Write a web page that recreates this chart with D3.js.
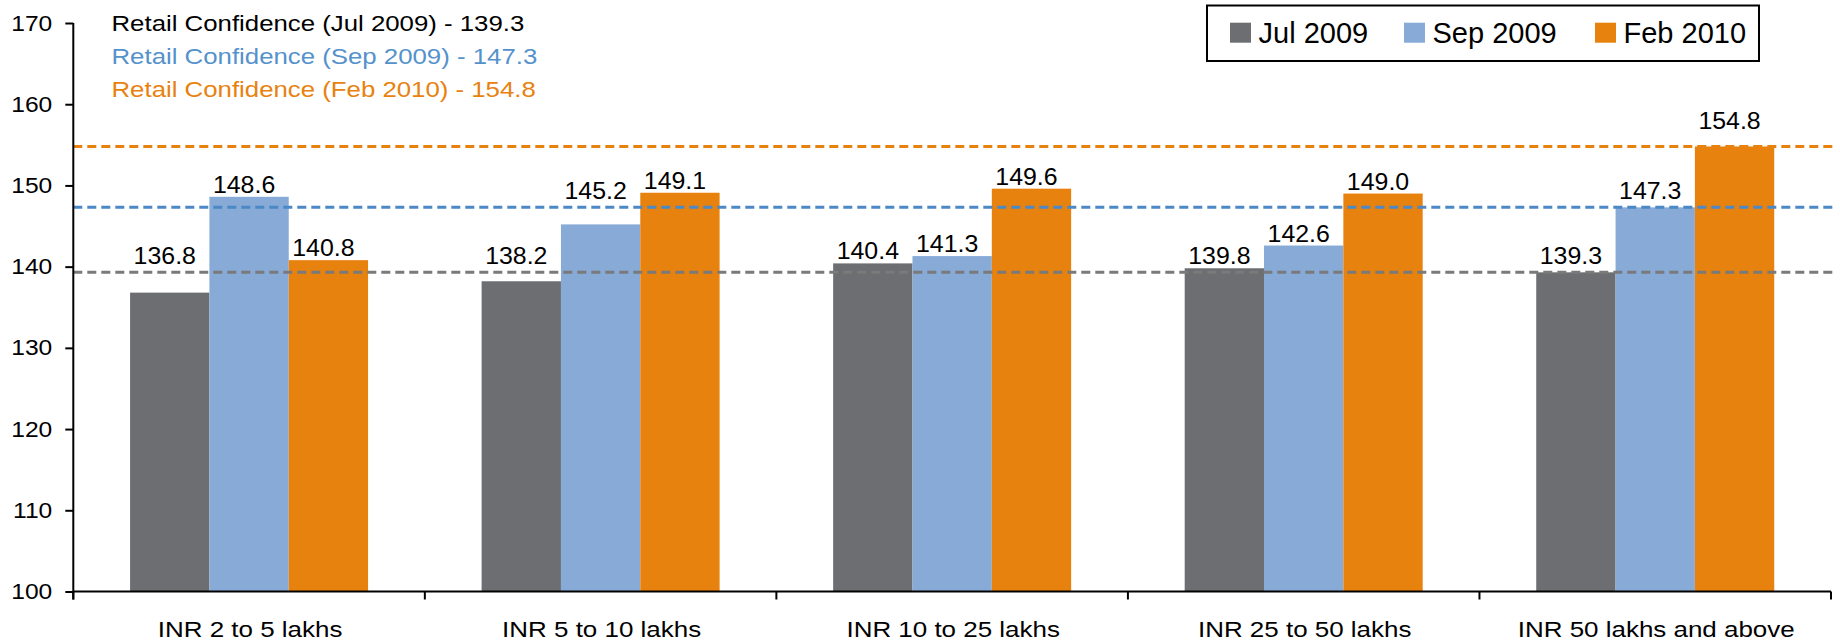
<!DOCTYPE html>
<html>
<head>
<meta charset="utf-8">
<script src="https://cdn.jsdelivr.net/npm/d3@7"></script>
<style>
  html, body { margin: 0; padding: 0; background: #ffffff; }
  svg { display: block; font-family: "Liberation Sans", Arial, sans-serif; }
</style>
</head>
<body>
<svg id="chart" width="1840" height="642"></svg>
<script>
// Income bands on the x axis
const categories = ["INR 2 to 5 lakhs", "INR 5 to 10 lakhs", "INR 10 to 25 lakhs", "INR 25 to 50 lakhs", "INR 50 lakhs and above"];
// Survey rounds
const seriesNames = ["Jul 2009", "Sep 2009", "Feb 2010"];
const jul2009 = [136.8, 138.2, 140.4, 139.8, 139.3];
const sep2009 = [148.6, 145.2, 141.3, 142.6, 147.3];
const feb2010 = [140.8, 149.1, 149.6, 149.0, 154.8];
// Overall retail confidence per round (dashed reference lines)
const overall = [139.3, 147.3, 154.8];
const yTicks = [100, 110, 120, 130, 140, 150, 160, 170];

const barColors = ["#6d6e72", "#87aad6", "#e8820f"];
const lineColors = ["#7a7a7a", "#4a88c6", "#e8820f"];
const noteColors = ["#000000", "#5592cc", "#e8820f"];

const svg = d3.select("#chart");
const plotLeft = 73.3, plotRight = 1831, plotTop = 23, plotBottom = 591.5;

const x = d3.scaleBand().domain(categories).range([plotLeft, plotRight]).paddingInner(0.323).paddingOuter(0.1615);
const xs = d3.scaleBand().domain(seriesNames).range([0, x.bandwidth()]);
const y = d3.scaleLinear().domain([100, 170]).range([plotBottom, plotTop]);

// Text in this chart is set slightly wide: scale glyphs horizontally about their anchor
function widen(sel, k) {
  sel.each(function () {
    const t = d3.select(this);
    const tx = +t.attr("x") || 0, ty = +t.attr("y") || 0;
    t.attr("x", 0).attr("y", 0).attr("transform", `translate(${tx},${ty}) scale(${k},1)`);
  });
}

const values = [jul2009, sep2009, feb2010];
const rows = categories.map((c, i) => ({ cat: c, vals: seriesNames.map((s, k) => ({ s, k, v: values[k][i] })) }));

// Bars
const groups = svg.append("g").selectAll("g").data(rows).join("g")
  .attr("transform", d => `translate(${x(d.cat)},0)`);
groups.selectAll("rect").data(d => d.vals).join("rect")
  .attr("x", d => xs(d.s))
  .attr("width", xs.bandwidth())
  .attr("y", d => y(d.v))
  .attr("height", d => y(100) - y(d.v))
  .attr("fill", d => barColors[d.k]);

// Value labels sit just above each bar; a label that would sit on a
// reference line is lifted clear above that line.
const lineYs = overall.map(v => y(v));
function labelBaseline(d) {
  let b = y(d.v) - 4;
  const hit = lineYs.find(ly => ly > b - 19 && ly < b + 5);
  if (hit !== undefined) b = hit - 8;
  if (Math.abs(y(d.v) - y(overall[d.k])) < 3 && d.v === d3.max(values[d.k])) b = y(d.v) - 17;
  return b;
}
const valueLabels = groups.selectAll("text").data(d => d.vals).join("text")
  .attr("x", d => xs(d.s) + xs.bandwidth() / 2 - 5)
  .attr("y", labelBaseline)
  .attr("text-anchor", "middle")
  .attr("font-size", 23.5)
  .attr("fill", "#000")
  .text(d => d.v.toFixed(1));
widen(valueLabels, 1.06);

// Dashed reference lines
svg.append("g").selectAll("line").data(overall).join("line")
  .attr("x1", plotLeft).attr("x2", plotRight + 2)
  .attr("y1", d => y(d)).attr("y2", d => y(d))
  .attr("stroke", (d, i) => lineColors[i])
  .attr("stroke-width", 3)
  .attr("stroke-dasharray", "9,5");

// Y axis
const yAxis = svg.append("g").attr("transform", `translate(${plotLeft},0)`)
  .call(d3.axisLeft(y).tickValues(yTicks).tickSize(8).tickPadding(13).tickFormat(d3.format("d")));
yAxis.select(".domain").attr("stroke", "#000").attr("stroke-width", 2).attr("d", `M0,${plotTop}V${plotBottom + 8}`);
yAxis.selectAll(".tick line").attr("stroke", "#000").attr("stroke-width", 2);
const tickText = yAxis.selectAll(".tick text").attr("font-size", 22).attr("fill", "#000")
  .attr("font-family", "Liberation Sans, Arial, sans-serif");
widen(tickText, 1.12);

// X axis: ticks sit on the category boundaries
const bounds = categories.map(c => x(c) - x.step() * x.paddingInner() / 2).concat([plotRight]);
const xAxis = svg.append("g");
xAxis.append("line").attr("x1", plotLeft).attr("x2", plotRight).attr("y1", plotBottom).attr("y2", plotBottom)
  .attr("stroke", "#000").attr("stroke-width", 2);
xAxis.selectAll("line.tk").data(bounds).join("line").attr("class", "tk")
  .attr("x1", d => d).attr("x2", d => d).attr("y1", plotBottom).attr("y2", plotBottom + 8)
  .attr("stroke", "#000").attr("stroke-width", 2);
const catLabels = xAxis.selectAll("text").data(categories).join("text")
  .attr("x", d => x(d) + x.bandwidth() / 2 + 1)
  .attr("y", 637)
  .attr("text-anchor", "middle")
  .attr("font-size", 22)
  .attr("fill", "#000")
  .text(d => d);
widen(catLabels, 1.18);

// Overall confidence notes
const notes = svg.append("g").selectAll("text").data(overall).join("text")
  .attr("x", 111.5)
  .attr("y", (d, i) => 30.7 + i * 33)
  .attr("font-size", 21.5)
  .attr("fill", (d, i) => noteColors[i])
  .text((d, i) => `Retail Confidence (${seriesNames[i]}) - ${d.toFixed(1)}`);
widen(notes, 1.2);

// Legend
const legend = svg.append("g");
legend.append("rect").attr("x", 1207).attr("y", 5.5).attr("width", 552).attr("height", 55.5)
  .attr("fill", "#fff").attr("stroke", "#000").attr("stroke-width", 2);
const legendX = [1230, 1404, 1595];
const items = legend.selectAll("g").data(seriesNames).join("g")
  .attr("transform", (d, i) => `translate(${legendX[i]},0)`);
items.append("rect").attr("x", 0).attr("y", 22.7).attr("width", 21).attr("height", 20)
  .attr("fill", (d, i) => barColors[i]);
items.append("text").attr("x", 28.5).attr("y", 42.7).attr("font-size", 29).attr("fill", "#000").text(d => d);
</script>
</body>
</html>
